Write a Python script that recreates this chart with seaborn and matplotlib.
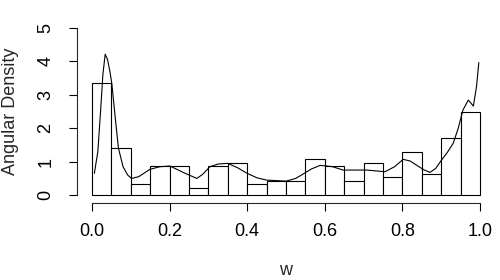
import numpy as np
import pandas as pd
import matplotlib
matplotlib.use("Agg")
import matplotlib.pyplot as plt
import seaborn as sns

# histogram: 20 bins of width 0.05 on [0, 1]
bin_edges = [i / 20 for i in range(21)]
bin_mids = [0.025 + i * 0.05 for i in range(20)]
bin_heights = [3.34, 1.41, 0.32, 0.87, 0.87, 0.20, 0.87, 0.95, 0.32, 0.41,
               0.41, 1.07, 0.87, 0.41, 0.95, 0.54, 1.28, 0.62, 1.71, 2.49]

# angular density curve
dens_w = [0.006, 0.015, 0.022, 0.028, 0.034, 0.040, 0.046, 0.051, 0.060, 0.068,
          0.080, 0.092, 0.102, 0.120, 0.149, 0.175, 0.201, 0.235, 0.270, 0.285,
          0.304, 0.325, 0.350, 0.375, 0.400, 0.425, 0.450, 0.500, 0.525, 0.544,
          0.565, 0.588, 0.620, 0.647, 0.708, 0.755, 0.780, 0.802, 0.820, 0.840,
          0.855, 0.871, 0.886, 0.901, 0.916, 0.931, 0.944, 0.956, 0.970, 0.983,
          0.991, 0.997]
dens_h = [0.65, 1.30, 2.50, 3.60, 4.21, 4.05, 3.70, 3.34, 2.30, 1.41,
          0.85, 0.60, 0.50, 0.55, 0.77, 0.85, 0.87, 0.68, 0.50, 0.62,
          0.85, 0.93, 0.95, 0.82, 0.65, 0.52, 0.45, 0.42, 0.50, 0.63,
          0.78, 0.89, 0.85, 0.75, 0.75, 0.70, 0.85, 1.07, 1.02, 0.87,
          0.76, 0.68, 0.80, 1.05, 1.28, 1.55, 2.00, 2.54, 2.84, 2.66,
          3.24, 3.96]

sns.set_style("ticks")
plt.rcParams["font.family"] = ["Liberation Sans", "DejaVu Sans"]

fig = plt.figure(figsize=(5, 2.8), dpi=100)
ax = fig.add_axes([0.153, 0.279, 0.838, 0.646])

hist_df = pd.DataFrame({"w": bin_mids, "h": bin_heights})
sns.histplot(data=hist_df, x="w", weights="h", bins=bin_edges, stat="count",
             color="white", edgecolor="black", linewidth=0.8, alpha=1, ax=ax)

dens_df = pd.DataFrame({"w": dens_w, "d": dens_h})
sns.lineplot(data=dens_df, x="w", y="d", color="black", linewidth=0.8, ax=ax)

ax.set_xlim(-0.04, 1.04)
ax.set_ylim(-0.2, 5.2)
ax.set_xticks([0.0, 0.2, 0.4, 0.6, 0.8, 1.0])
ax.set_xticklabels(["0.0", "0.2", "0.4", "0.6", "0.8", "1.0"])
ax.set_yticks([0, 1, 2, 3, 4, 5])
ax.set_yticklabels(["0", "1", "2", "3", "4", "5"], rotation=90, va="center")

for s in ["top", "right"]:
    ax.spines[s].set_visible(False)
ax.spines["left"].set_bounds(0, 5)
ax.spines["bottom"].set_bounds(0, 1)
ax.spines["bottom"].set_position(("outward", 1))
for s in ["left", "bottom"]:
    ax.spines[s].set_linewidth(0.8)
ax.tick_params(axis="both", length=6, width=0.8, labelsize=13, colors="black")
ax.tick_params(axis="x", pad=8)
ax.tick_params(axis="y", pad=10)

ax.set_xlabel("w", fontsize=13, labelpad=16)
ax.set_ylabel("Angular Density", fontsize=13, labelpad=13)

fig.savefig("out.png", dpi=100)
